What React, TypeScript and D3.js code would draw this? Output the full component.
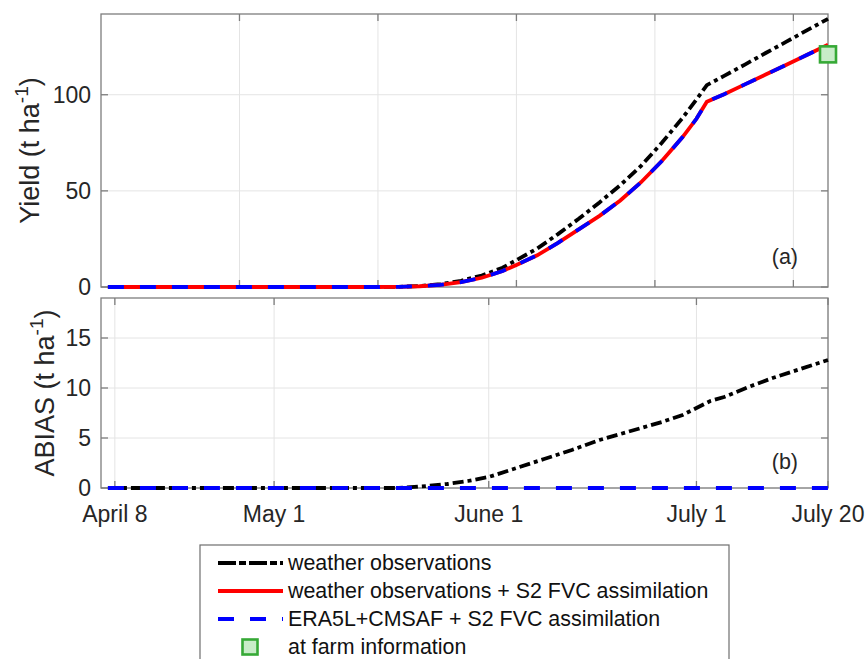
import React from 'react';
import * as d3 from 'd3';

// ---------- data ----------
const yieldDates = ['04-07','05-16','05-19','05-22','05-25','05-28','05-31','06-03','06-05','06-08','06-11','06-14','06-17','06-20','06-23','06-26','06-29','07-01','07-02T12:00','07-05','07-08','07-11','07-14','07-17','07-20'];
const yieldWeatherObs = [0,0,0.1,0.5,1.5,3.2,6,10,14,20,27.5,35.5,44,53,63,75,88,97.5,105,109.8,115.7,121.7,127.6,133.6,139.5];
const yieldWeatherObsAssim = [0,0,0.1,0.4,1.1,2.5,4.8,8.3,11.5,16.5,23,30,37,45,54.5,65.5,78,87.5,96.4,100.3,105.4,110.5,115.6,120.8,126];
const yieldEra5Assim = [0,0,0.1,0.4,1.1,2.5,4.8,8.3,11.5,16.5,23,30,37,45,54.5,65.5,78,87.5,96.4,100.3,105.4,110.5,115.6,120.8,126];

const abiasDates = ['04-07','05-16','05-19','05-23','05-26','05-29','06-01','06-05','06-09','06-13','06-17','06-21','06-26','06-29','07-01','07-03','07-05','07-08T12:00','07-12','07-16','07-20'];
const abiasWeatherObs = [0,0,0,0.2,0.4,0.7,1.1,2.0,2.9,3.8,4.8,5.6,6.6,7.3,8.0,8.7,9.1,10.1,11.0,11.9,12.8];
const abiasEra5DatesEnds = ['04-07','07-20'];
const abiasEra5Assim = [0,0];

const farmDate = '07-20';
const farmYield = 121;

const topGridDates = ['04-26','05-16','06-05','06-25','07-15'];
const bottomTickDates = ['04-08','05-01','06-01','07-01','07-20'];
const bottomTickLabels = ['April 8','May 1','June 1','July 1','July 20'];
const topYTicks = [0,50,100];
const bottomYTicks = [0,5,10,15];

const legendLabels = ['weather observations','weather observations + S2 FVC assimilation','ERA5L+CMSAF + S2 FVC assimilation','at farm information'];

// ---------- helpers ----------
const parse = (s: string) => new Date(`2019-${s.includes('T') ? s : s + 'T00:00'}`);

const FONT = '"Liberation Sans", Arial, Helvetica, sans-serif';
const AX = '#7d7d7d';
const GRID = '#e4e4e4';
const TXT = '#262626';

const L = 101, R = 828;
const TOP_T = 14, TOP_B = 287;
const BOT_T = 298, BOT_B = 488;

const BLACK_DASH = '11,4,4,4';
const BLUE_DASH = '16,16';
const TICK_FS = 23;

export default function App() {
  const x = d3.scaleTime().domain([parse('04-06'), parse('07-20')]).range([L, R]);
  const yTop = d3.scaleLinear().domain([0, 142]).range([TOP_B, TOP_T]);
  const yBot = d3.scaleLinear().domain([0, 19]).range([BOT_B, BOT_T]);

  const mkLine = (dates: string[], vals: number[], y: d3.ScaleLinear<number, number>) =>
    d3.line<number>().x((_, i) => x(parse(dates[i]))).y((v) => y(v))(vals) || '';

  const frame = (top: number, bottom: number, xt: string[], yt: number[], y: d3.ScaleLinear<number, number>, key: string) => (
    <g key={key}>
      {xt.map((d) => (
        <line key={'gx' + d} x1={x(parse(d))} x2={x(parse(d))} y1={top} y2={bottom} stroke={GRID} strokeWidth={1} />
      ))}
      {yt.map((v) => (
        <line key={'gy' + v} x1={L} x2={R} y1={y(v)} y2={y(v)} stroke={GRID} strokeWidth={1} />
      ))}
      <rect x={L} y={top} width={R - L} height={bottom - top} fill="none" stroke={AX} strokeWidth={1.3} />
      {xt.map((d) => (
        <g key={'tx' + d}>
          <line x1={x(parse(d))} x2={x(parse(d))} y1={bottom} y2={bottom - 7} stroke={AX} strokeWidth={1.3} />
          <line x1={x(parse(d))} x2={x(parse(d))} y1={top} y2={top + 7} stroke={AX} strokeWidth={1.3} />
        </g>
      ))}
      {yt.map((v) => (
        <g key={'ty' + v}>
          <line x1={L} x2={L + 7} y1={y(v)} y2={y(v)} stroke={AX} strokeWidth={1.3} />
          <line x1={R} x2={R - 7} y1={y(v)} y2={y(v)} stroke={AX} strokeWidth={1.3} />
          <text x={91} y={y(v)} dy="0.36em" textAnchor="end" fontSize={TICK_FS} fill={TXT}>{v}</text>
        </g>
      ))}
    </g>
  );

  const legendYs = [563, 591, 619, 647];
  const sq = 16;

  return (
    <svg width={865} height={659} style={{ position: 'absolute', left: 0, top: 0, background: '#fff' }} fontFamily={FONT}>
      <rect x={0} y={0} width={865} height={659} fill="#fff" />
      {/* top panel */}
      {frame(TOP_T, TOP_B, topGridDates, topYTicks, yTop, 'top')}
      <path d={mkLine(yieldDates, yieldWeatherObs, yTop)} fill="none" stroke="#000" strokeWidth={3.8} strokeDasharray={BLACK_DASH} />
      <path d={mkLine(yieldDates, yieldWeatherObsAssim, yTop)} fill="none" stroke="#ff0000" strokeWidth={3.8} />
      <path d={mkLine(yieldDates, yieldEra5Assim, yTop)} fill="none" stroke="#0000ff" strokeWidth={3.8} strokeDasharray={BLUE_DASH} />
      <rect x={x(parse(farmDate)) - sq / 2} y={yTop(farmYield) - sq / 2} width={sq} height={sq} fill="#c8ecc8" stroke="#36a936" strokeWidth={2.6} />
      <text x={798} y={264} textAnchor="end" fontSize={21.5} fill={TXT}>(a)</text>
      <text transform={`translate(39,${(TOP_T + TOP_B) / 2}) rotate(-90)`} textAnchor="middle" fontSize={27} fill={TXT}>
        Yield (t ha<tspan dy={-11} fontSize={19}>-1</tspan><tspan dy={11}>)</tspan>
      </text>

      {/* bottom panel */}
      {frame(BOT_T, BOT_B, bottomTickDates, bottomYTicks, yBot, 'bot')}
      <path d={mkLine(abiasDates, abiasWeatherObs, yBot)} fill="none" stroke="#000" strokeWidth={3.8} strokeDasharray={BLACK_DASH} />
      <path d={mkLine(abiasEra5DatesEnds, abiasEra5Assim, yBot)} fill="none" stroke="#0000ff" strokeWidth={3.8} strokeDasharray={BLUE_DASH} />
      <text x={798} y={469} textAnchor="end" fontSize={21.5} fill={TXT}>(b)</text>
      <text transform={`translate(53.5,${(BOT_T + BOT_B) / 2}) rotate(-90)`} textAnchor="middle" fontSize={27} fill={TXT}>
        ABIAS (t ha<tspan dy={-11} fontSize={19}>-1</tspan><tspan dy={11}>)</tspan>
      </text>
      {bottomTickDates.map((d, i) => (
        <text key={d} x={x(parse(d))} y={522} textAnchor="middle" fontSize={TICK_FS} fill={TXT}>{bottomTickLabels[i]}</text>
      ))}

      {/* legend */}
      <rect x={200} y={545} width={529} height={122} fill="#fff" stroke="#6e6e6e" strokeWidth={1.2} />
      <line x1={218} x2={283} y1={legendYs[0]} y2={legendYs[0]} stroke="#000" strokeWidth={3.8} strokeDasharray="18,3,7,3" />
      <line x1={218} x2={283} y1={legendYs[1]} y2={legendYs[1]} stroke="#ff0000" strokeWidth={3.8} />
      <line x1={218} x2={283} y1={legendYs[2]} y2={legendYs[2]} stroke="#0000ff" strokeWidth={3.8} strokeDasharray={BLUE_DASH} />
      <rect x={250 - 7.5} y={legendYs[3] - 7.5} width={15} height={15} fill="#c8ecc8" stroke="#36a936" strokeWidth={2.6} />
      {legendLabels.map((t, i) => (
        <text key={t} x={288} y={legendYs[i] + 6.5} fontSize={21.4} fill="#111">{t}</text>
      ))}
    </svg>
  );
}
